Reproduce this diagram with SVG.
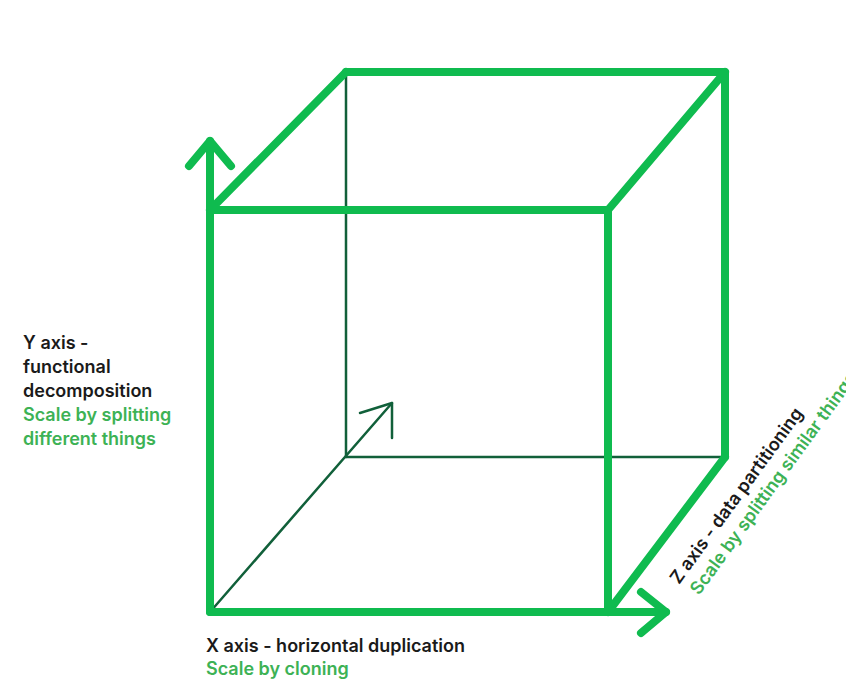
<svg xmlns="http://www.w3.org/2000/svg" width="846" height="695" viewBox="0 0 846 695">
<style>
.thick{stroke:#0fbb4f;stroke-width:8;fill:none;stroke-linecap:round;stroke-linejoin:round}
.thin{stroke:#11603a;stroke-width:2.5;fill:none;stroke-linecap:round;stroke-linejoin:round}
.lbl{font-family:Inter,"Liberation Sans",sans-serif;font-size:18px;font-weight:600;fill:#1a1a1a}
.sub{font-family:Inter,"Liberation Sans",sans-serif;font-size:18px;font-weight:600;fill:#3db255}
</style>
<rect width="846" height="695" fill="#ffffff"/>
<g id="connectors">
<line class="thin" x1="346" y1="72" x2="346" y2="457"/>
<line class="thin" x1="346" y1="457" x2="725" y2="457"/>
<line class="thin" x1="210" y1="612" x2="392" y2="403"/>
<polyline class="thin" points="360,413 392,403 392,438"/>
<polyline class="thick" points="346,72 725,72 725,457"/>
<line class="thick" x1="210" y1="210" x2="346" y2="72"/>
<line class="thick" x1="608" y1="210" x2="725" y2="72"/>
<line class="thick" x1="608" y1="612" x2="725" y2="457"/>
<polyline class="thick" points="210,210 608,210 608,612"/>
<line class="thick" x1="210" y1="612" x2="210" y2="141"/>
<polyline class="thick" points="189,166 210,141 231,166"/>
<line class="thick" x1="210" y1="612" x2="666" y2="612"/>
<polyline class="thick" points="641,592 666,612 641,633"/>
</g>
<g id="y-label">
<text class="lbl" x="23" y="349">Y axis -</text>
<text class="lbl" x="23" y="373">functional</text>
<text class="lbl" x="23" y="397">decomposition</text>
<text class="sub" x="23" y="421">Scale by splitting</text>
<text class="sub" x="23" y="445">different things</text>
</g>
<g id="x-label">
<text class="lbl" x="206" y="652">X axis - horizontal duplication</text>
<text class="sub" x="206" y="675">Scale by cloning</text>
</g>
<g id="z-label">
<text class="lbl" transform="translate(679,585) rotate(-54)">Z axis - data partitioning</text>
<text class="sub" transform="translate(699,596) rotate(-54)">Scale by splitting similar things</text>
</g>
</svg>
